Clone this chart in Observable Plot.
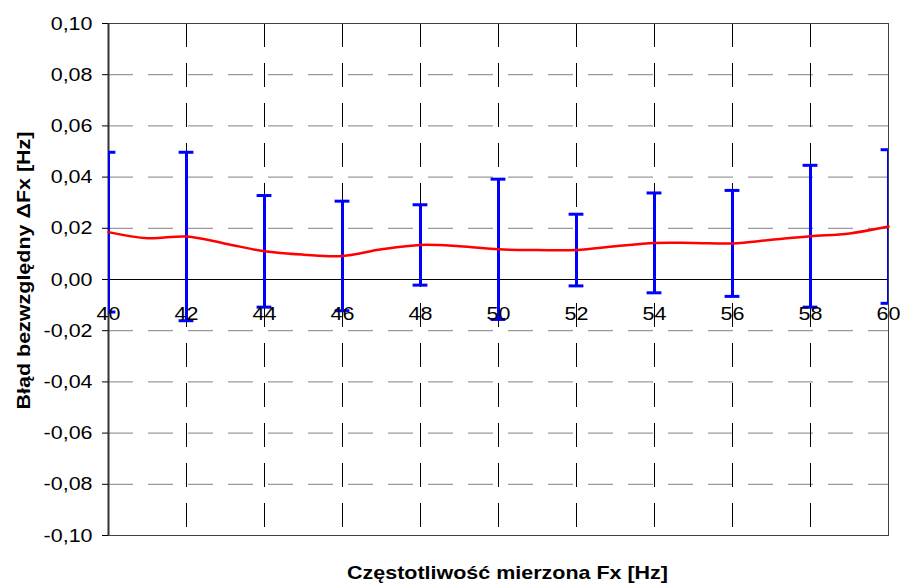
<!DOCTYPE html>
<html><head><meta charset="utf-8">
<script src="https://cdn.jsdelivr.net/npm/d3@7"></script>
<script src="https://cdn.jsdelivr.net/npm/@observablehq/plot@0.6"></script>
<style>body{margin:0;background:#fff}</style>
</head><body><div id="chart"></div>
<script>
// Error-bar points (measured frequency, mean error, half-width of error bar)
const freqs  = [40, 42, 44, 46, 48, 50, 52, 54, 56, 58, 60];
const means  = [0.0185, 0.0168, 0.0110, 0.0092, 0.0135, 0.0118, 0.0115, 0.0143, 0.0141, 0.0169, 0.0207];
const errors = [0.0312, 0.0329, 0.0218, 0.0214, 0.0157, 0.0274, 0.0140, 0.0195, 0.0207, 0.0277, 0.0300];

// Smoothed red line
const lineFreqs  = [40, 41, 42, 43, 44, 45, 46, 47, 48, 49, 50, 51, 52, 53, 54, 55, 56, 57, 58, 59, 60];
const lineValues = [0.0185, 0.0161, 0.0168, 0.0140, 0.0110, 0.0097, 0.0092, 0.0118, 0.0135, 0.0130, 0.0118, 0.0115, 0.0115, 0.0130, 0.0143, 0.0143, 0.0141, 0.0155, 0.0169, 0.0180, 0.0207];

const xTicks = [40, 42, 44, 46, 48, 50, 52, 54, 56, 58, 60];
const yTicks = [-0.10, -0.08, -0.06, -0.04, -0.02, 0.00, 0.02, 0.04, 0.06, 0.08, 0.10];

const xTitle = "Częstotliwość mierzona Fx [Hz]";
const yTitle = "Błąd bezwzględny ΔFx [Hz]";

const capHalf = 0.19;
const fmt = d => (Math.abs(d) < 1e-9 ? 0 : d).toFixed(2).replace(".", ",");

const bars = freqs.map((f, i) => ({f, m: means[i], lo: means[i] - errors[i], hi: means[i] + errors[i]}));
const line = lineFreqs.map((f, i) => ({f, v: lineValues[i]}));
const innerY = yTicks.filter(v => Math.abs(v) > 1e-9 && Math.abs(v) < 0.0999);

const chart = Plot.plot({
  width: 905, height: 585,
  marginLeft: 108, marginRight: 17, marginTop: 23, marginBottom: 50,
  style: {fontFamily: "'Liberation Sans', Arial, sans-serif", fontSize: "19px", color: "#000", background: "#fff"},
  x: {domain: [40, 60], axis: null},
  y: {domain: [-0.1, 0.1], axis: null},
  marks: [
    Plot.gridY(innerY, {stroke: "#808080", strokeOpacity: 1, strokeDasharray: "25,15"}),
    Plot.gridX(xTicks, {stroke: "#000", strokeOpacity: 1, strokeDasharray: "24,16"}),
    Plot.frame({stroke: "#404040"}),
    Plot.ruleY([0], {stroke: "#000"}),
    Plot.ruleX([40], {stroke: "#333", strokeWidth: 2}),
    Plot.axisY(yTicks, {anchor: "left", tickSize: 6, tickPadding: 10, tickFormat: fmt, fontSize: 19, stroke: "#000"}),
    Plot.ruleX(bars, {x: "f", y1: "lo", y2: "hi", stroke: "#0000ff", strokeWidth: 3, clip: true}),
    Plot.ruleY(bars, {y: "hi", x1: d => d.f - capHalf, x2: d => d.f + capHalf, stroke: "#0000ff", strokeWidth: 3, clip: true}),
    Plot.ruleY(bars, {y: "lo", x1: d => d.f - capHalf, x2: d => d.f + capHalf, stroke: "#0000ff", strokeWidth: 3, clip: true}),
    Plot.line(line, {x: "f", y: "v", curve: "catmull-rom", stroke: "#ff0000", strokeWidth: 2.5}),
    Plot.text(xTicks, {x: d => d, y: () => 0, dy: 34, text: d => String(d), fontSize: 19, fill: "#000"}),
    Plot.text([xTitle], {frameAnchor: "bottom", dx: 9, dy: 43, lineAnchor: "bottom", textAnchor: "middle", text: d => d, fontWeight: "bold", fontSize: 19, fill: "#000"}),
    Plot.text([yTitle], {frameAnchor: "left", dx: -85, dy: -9, rotate: -90, textAnchor: "middle", lineAnchor: "middle", text: d => d, fontWeight: "bold", fontSize: 19, fill: "#000"})
  ]
});
document.getElementById("chart").append(chart);
chart.querySelectorAll("text").forEach(t => {
  const L = t.getComputedTextLength();
  if (L > 0) { t.setAttribute("textLength", (L * 1.13).toFixed(1)); t.setAttribute("lengthAdjust", "spacingAndGlyphs"); }
});
</script>
</body></html>
